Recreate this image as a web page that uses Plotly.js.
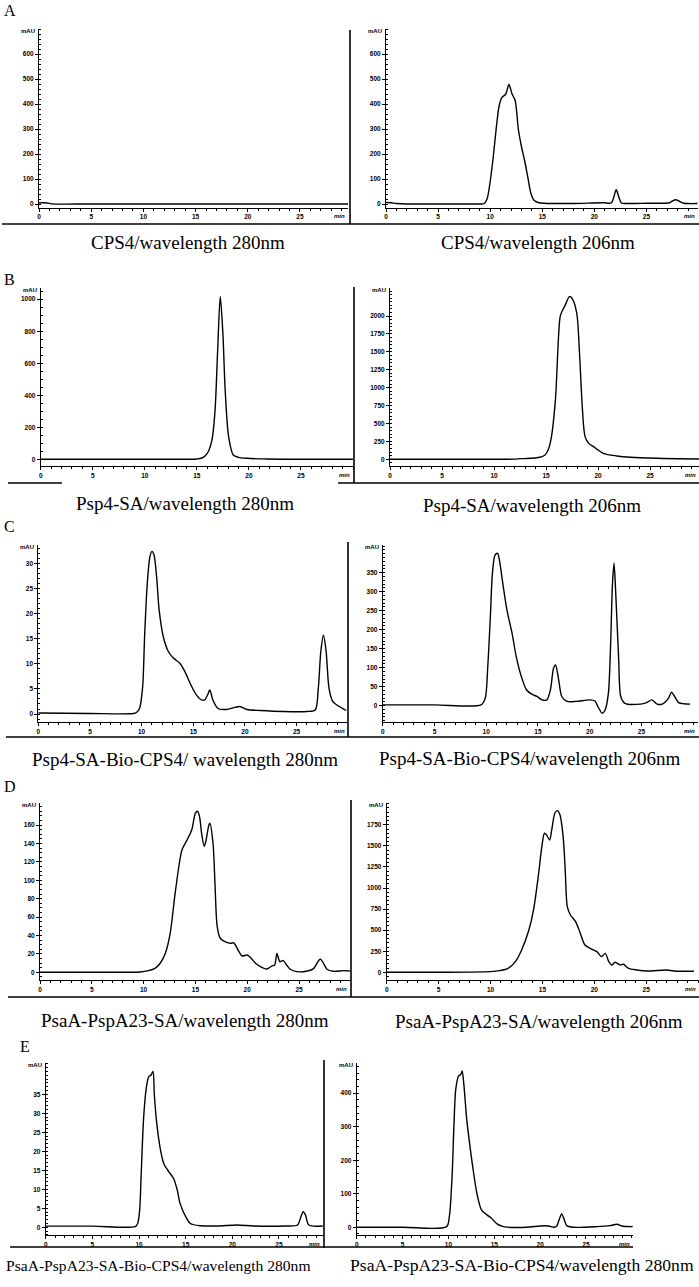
<!DOCTYPE html>
<html>
<head>
<meta charset="utf-8">
<script src="https://cdn.plot.ly/plotly-3.0.1.min.js"></script>
<style>html,body{margin:0;padding:0;background:#fff;}#chart{width:699px;height:1287px;}</style>
</head>
<body>
<div id="chart"></div>
<script>
// ---------------- DATA (retention time in min, absorbance in mAU) ----------------
const cps4_280_t = [0, 0.3, 0.8, 1.2, 5, 10, 15, 18.5, 19, 25, 29.6];
const cps4_280_y = [4, 5, 4, 0.5, 0, 0, 0, 0, 0, 0, 0];

const cps4_206_t = [0, 0.5, 1.0, 2, 5, 9, 9.4, 9.7, 10.0, 10.3, 10.6, 10.85, 11.1, 11.5, 11.8, 12.1, 12.4, 12.7, 13.0, 13.3, 13.6, 13.9, 14.2, 14.6, 15.2, 18, 21.0, 21.3, 21.65, 21.85, 22.1, 22.35, 22.6, 23.0, 25, 27.2, 27.5, 27.8, 28.2, 28.6, 29.9];
const cps4_206_y = [6, 5, 2, 0, 0, 0, 1, 20, 90, 190, 310, 390, 425, 440, 478, 440, 414, 300, 230, 175, 110, 44, 15, 6, 3, 2, 5, 3, 5, 25, 57, 28, 4, 2, 3, 5, 12, 17, 10, 3, 2];

const psp4_280_t = [0, 5, 10, 14, 15, 15.5, 16, 16.45, 16.75, 17, 17.25, 17.5, 17.72, 18.05, 18.5, 19, 19.8, 21.7, 24, 30];
const psp4_280_y = [0, 0, 0, 0, 2, 8, 37, 120, 308, 683, 1017, 787, 433, 142, 27, 12, 6, 2, 0, 0];

const psp4_206_t = [0, 5, 10, 12, 12.5, 13, 14.4, 14.9, 15.2, 15.5, 15.9, 16.35, 16.55, 16.8, 17.25, 17.5, 17.95, 18.2, 18.5, 18.75, 19.1, 19.55, 20.5, 21.8, 23.1, 25.6, 29.7];
const psp4_206_y = [0, 0, 0, 3, 9, 10, 28, 60, 130, 300, 830, 1990, 2070, 2140, 2272, 2248, 2040, 1527, 690, 317, 223, 177, 84, 47, 28, 14, 5];

const psp4bio_280_t = [0, 5, 9.2, 9.5, 9.8, 10.1, 10.3, 10.55, 10.8, 11.0, 11.2, 11.45, 11.7, 12.1, 12.6, 13.1, 13.7, 14.2, 14.7, 15.3, 15.8, 16.1, 16.45, 16.6, 16.9, 17.4, 18.2, 19.5, 20.2, 21.5, 23.7, 26.0, 26.8, 27.1, 27.35, 27.6, 27.85, 28.15, 28.5, 28.9, 29.8];
const psp4bio_280_y = [0.2, 0.1, 0.1, 0.3, 1.1, 5.4, 16, 26, 31.3, 32.4, 31.7, 27.4, 20.7, 15.4, 12.4, 11.1, 10.1, 8.4, 6.1, 3.8, 2.8, 2.8, 4.1, 4.8, 2.8, 1.1, 0.9, 1.5, 0.9, 0.7, 0.5, 0.5, 0.8, 5, 12.5, 15.7, 12.7, 5, 2.5, 1.8, 0.7];

const psp4bio_206_t = [0, 5, 9.5, 9.9, 10.15, 10.4, 10.6, 10.85, 11.1, 11.3, 11.6, 12.0, 12.5, 12.9, 13.4, 13.9, 14.4, 14.9, 15.4, 15.85, 16.2, 16.5, 16.7, 17.0, 17.3, 17.8, 18.7, 20.0, 20.5, 20.8, 21.2, 21.5, 21.8, 22.0, 22.2, 22.35, 22.5, 22.8, 23.0, 23.4, 24.9, 25.5, 26.0, 26.5, 27.0, 27.6, 27.9, 28.2, 28.6, 29.7];
const psp4bio_206_y = [2, 2, 2, 19, 103, 234, 348, 396, 401, 379, 322, 252, 190, 129, 76, 41, 30, 24, 15, 15, 41, 98, 107, 68, 24, 11, 11, 15, 12, -3, -20, -11, 32, 146, 322, 375, 304, 120, 24, 6, 4, 8, 15, 4, 4, 19, 35, 24, 8, 4];

const psaA_280_t = [0, 5, 9.66, 10.47, 11.1, 11.6, 12.1, 12.56, 13.0, 13.4, 13.7, 14.2, 14.65, 15.0, 15.2, 15.4, 15.6, 15.85, 16.0, 16.3, 16.4, 16.7, 16.9, 17.1, 17.4, 17.9, 18.4, 18.7, 19.2, 19.5, 20.0, 20.3, 20.8, 21.4, 21.9, 22.4, 22.65, 22.87, 23.15, 23.45, 23.8, 24.15, 24.8, 25.8, 26.4, 26.8, 27.05, 27.3, 27.7, 28.3, 29.3, 29.9];
const psaA_280_y = [0, 0, 0.4, 1.8, 4.3, 9.8, 20.7, 42, 82, 115, 133, 144, 155, 173, 175, 169, 151, 137, 142, 160, 162, 140, 93, 50, 37, 33, 31.5, 32, 22.5, 17.8, 18.8, 16.3, 9.8, 5.4, 3.6, 6.9, 8, 20.5, 11.5, 13, 8, 3.3, 0.7, 1.4, 4, 11, 14.5, 11, 3.3, 1.1, 1.8, 1.4];

const psaA_206_t = [0, 5, 10, 10.9, 11.7, 12.4, 13.0, 13.7, 14.15, 14.6, 14.95, 15.2, 15.4, 15.7, 15.9, 16.2, 16.45, 16.7, 17.0, 17.2, 17.4, 17.7, 18.2, 18.65, 19.1, 19.6, 20.25, 20.7, 21.06, 21.4, 21.7, 22.0, 22.5, 22.8, 23.3, 24.1, 25.1, 27.0, 27.65, 29.6];
const psaA_206_y = [0, 0, 8, 20, 47, 127, 265, 502, 740, 1135, 1491, 1650, 1630, 1570, 1689, 1887, 1918, 1867, 1610, 1214, 779, 680, 601, 463, 324, 285, 245, 186, 225, 127, 87, 119, 87, 95, 47, 28, 16, 28, 16, 12];

const psaAbio_280_t = [0, 5, 9.6, 9.86, 10.07, 10.25, 10.5, 10.8, 11.04, 11.3, 11.5, 11.65, 11.9, 12.3, 12.65, 13.2, 13.7, 14.1, 14.4, 15.0, 15.5, 16.6, 18.4, 20.5, 22.3, 25.6, 27.0, 27.3, 27.6, 27.85, 28.2, 29.7];
const psaAbio_280_y = [0.3, 0.3, 0.2, 1, 4.6, 15, 29, 37, 39.6, 40.1, 41, 34.6, 27.4, 20.4, 16.8, 14.6, 12.9, 9.8, 6.3, 2.8, 1, 0.4, 0.35, 0.6, 0.35, 0.35, 0.6, 2.4, 4.1, 3.2, 0.6, 0.35];

const psaAbio_206_t = [0, 5, 9.8, 10.1, 10.4, 10.6, 10.8, 11.1, 11.35, 11.5, 11.7, 12.0, 12.4, 12.7, 13.1, 13.6, 14.2, 14.7, 15.3, 16.0, 18.5, 20.0, 20.9, 21.5, 21.8, 22.1, 22.35, 22.6, 22.9, 23.6, 26.2, 27.6, 28.4, 28.9, 30.1];
const psaAbio_206_y = [0, 0, 2, 32, 152, 301, 411, 451, 456, 466, 421, 321, 231, 171, 102, 52, 37, 27, 10, 2, 0, 4, 4, 0, 3, 25, 40, 25, 5, 0, 2, 5, 9, 4, 2];

// tick labels
const xTicks = [0, 5, 10, 15, 20, 25];
const yTicksA = [0, 100, 200, 300, 400, 500, 600];
const yTicksB280 = [0, 200, 400, 600, 800, 1000];
const yTicksB206 = [0, 250, 500, 750, 1000, 1250, 1500, 1750, 2000];
const yTicksC280 = [0, 5, 10, 15, 20, 25, 30];
const yTicksC206 = [0, 50, 100, 150, 200, 250, 300, 350];
const yTicksD280 = [0, 20, 40, 60, 80, 100, 120, 140, 160];
const yTicksD206 = [0, 250, 500, 750, 1000, 1250, 1500, 1750];
const yTicksE280 = [0, 5, 10, 15, 20, 25, 30, 35];
const yTicksE206 = [0, 100, 200, 300, 400];

const captions = [
  "CPS4/wavelength 280nm", "CPS4/wavelength 206nm",
  "Psp4-SA/wavelength 280nm", "Psp4-SA/wavelength 206nm",
  "Psp4-SA-Bio-CPS4/ wavelength 280nm", "Psp4-SA-Bio-CPS4/wavelength 206nm",
  "PsaA-PspA23-SA/wavelength 280nm", "PsaA-PspA23-SA/wavelength 206nm",
  "PsaA-PspA23-SA-Bio-CPS4/wavelength 280nm", "PsaA-PspA23-SA-Bio-CPS4/wavelength 280nm"
];
const panelLetters = ["A", "B", "C", "D", "E"];

// ---------------- LAYOUT (pixel geometry of each chromatogram) ----------------
const W = 699, H = 1287;
const px = v => v / W;
const py = v => 1 - v / H;

const panels = [
  {t: cps4_280_t, y: cps4_280_y, yt: yTicksA, minor: 20, xd: [39, 348], xr: [0, 29.6], yd: [29, 207.5], yr: [-14, 700], cap: [188, 243, 19]},
  {t: cps4_206_t, y: cps4_206_y, yt: yTicksA, minor: 20, xd: [386, 698], xr: [0, 29.95], yd: [29, 207.5], yr: [-14, 700], cap: [538, 243, 19]},
  {t: psp4_280_t, y: psp4_280_y, yt: yTicksB280, minor: 50, xd: [40.7, 353], xr: [0, 30.0], yd: [288, 466], yr: [-42, 1070], cap: [185, 503, 19]},
  {t: psp4_206_t, y: psp4_206_y, yt: yTicksB206, minor: 50, xd: [390, 699], xr: [0, 29.7], yd: [288.3, 466], yr: [-93.5, 2388], cap: [532, 506, 19]},
  {t: psp4bio_280_t, y: psp4bio_280_y, yt: yTicksC280, minor: 1, xd: [38.3, 347.5], xr: [0, 29.93], yd: [545, 721.7], yr: [-1.53, 33.67], cap: [185, 760, 19]},
  {t: psp4bio_206_t, y: psp4bio_206_y, yt: yTicksC206, minor: 10, xd: [382.7, 698], xr: [0, 30.46], yd: [545, 721.7], yr: [-42.4, 422.9], cap: [530, 758, 19]},
  {t: psaA_280_t, y: psaA_280_y, yt: yTicksD280, minor: 5, xd: [40, 350], xr: [0, 29.92], yd: [803.3, 980], yr: [-8.37, 183.7], cap: [185, 1020, 19]},
  {t: psaA_206_t, y: psaA_206_y, yt: yTicksD206, minor: 50, xd: [386.7, 699], xr: [0, 30.09], yd: [803.3, 980], yr: [-91.3, 2005], cap: [539, 1021, 19]},
  {t: psaAbio_280_t, y: psaAbio_280_y, yt: yTicksE280, minor: 1, xd: [45.7, 323], xr: [0, 29.72], yd: [1063.3, 1235], yr: [-2.03, 43.16], cap: [158, 1265, 15.6]},
  {t: psaAbio_206_t, y: psaAbio_206_y, yt: yTicksE206, minor: 20, xd: [356.7, 633.3], xr: [0, 30.16], yd: [1063.3, 1235], yr: [-23, 489], cap: [522, 1265, 17.6]}
];

const tickFont = {family: "Liberation Sans, Arial, sans-serif", size: 6.5, color: "#000", weight: "bold"};
const serif = "Liberation Serif, Times New Roman, serif";

const traces = [];
const layout = {
  width: W, height: H,
  margin: {l: 0, r: 0, t: 0, b: 0, pad: 0},
  paper_bgcolor: "#fff", plot_bgcolor: "rgba(0,0,0,0)",
  showlegend: false,
  annotations: [], shapes: []
};

panels.forEach((p, i) => {
  const n = i === 0 ? "" : String(i + 1);
  traces.push({
    type: "scatter", mode: "lines", x: p.t, y: p.y,
    xaxis: "x" + n, yaxis: "y" + n,
    line: {color: "#000", width: 1.4, shape: "spline", smoothing: 0.8},
    hoverinfo: "skip", cliponaxis: true
  });
  layout["xaxis" + n] = {
    domain: [px(p.xd[0]), px(p.xd[1])], range: p.xr, anchor: "y" + n,
    showline: true, linecolor: "#000", linewidth: 1, mirror: false,
    showgrid: false, zeroline: false,
    tickmode: "array", tickvals: xTicks, ticktext: xTicks.map(String),
    ticks: "outside", ticklen: 3, tickwidth: 1, tickcolor: "#000",
    minor: {tickmode: "linear", tick0: 0, dtick: 1, ticks: "outside", ticklen: 2, tickwidth: 1, tickcolor: "#000", showgrid: false},
    tickfont: tickFont, fixedrange: true
  };
  layout["yaxis" + n] = {
    domain: [py(p.yd[1]), py(p.yd[0])], range: p.yr, anchor: "x" + n,
    showline: true, linecolor: "#000", linewidth: 1,
    showgrid: false, zeroline: false,
    tickmode: "array", tickvals: p.yt, ticktext: p.yt.map(String),
    ticks: "outside", ticklen: 3, tickwidth: 1, tickcolor: "#000",
    minor: {tickmode: "linear", tick0: 0, dtick: p.minor, ticks: "inside", ticklen: 2, tickwidth: 1, tickcolor: "#000", showgrid: false},
    tickfont: tickFont, fixedrange: true
  };
  // "mAU" unit label at top of y axis
  layout.annotations.push({
    xref: "paper", yref: "paper", x: px(p.xd[0] - 2), y: py(p.yd[0] + 2),
    xanchor: "right", yanchor: "middle", showarrow: false, text: "mAU",
    font: {family: tickFont.family, size: 6, color: "#000", weight: "bold"}
  });
  // "min" unit label at the end of x axis
  layout.annotations.push({
    xref: "paper", yref: "paper", x: px(p.xd[1] - 1), y: py(p.yd[1] + 9),
    xanchor: "right", yanchor: "middle", showarrow: false, text: "<i>min</i>",
    font: {family: tickFont.family, size: 6, color: "#000", weight: "bold"}
  });
  // caption
  layout.annotations.push({
    xref: "paper", yref: "paper", x: px(p.cap[0]), y: py(p.cap[1]),
    xanchor: "center", yanchor: "middle", showarrow: false, text: captions[i],
    font: {family: serif, size: p.cap[2], color: "#000"}
  });
});

// panel letters
const letterPos = [[2, 10], [2, 279], [2, 527], [2, 786], [18, 1046]];
panelLetters.forEach((L, i) => {
  layout.annotations.push({
    xref: "paper", yref: "paper", x: px(letterPos[i][0]), y: py(letterPos[i][1]),
    xanchor: "left", yanchor: "middle", showarrow: false, text: L,
    font: {family: serif, size: 16, color: "#000"}
  });
});

// frame lines of the assembled figure
const frame = [
  [350, 30, 350, 224], [2, 224, 699, 224],
  [354, 287, 354, 483], [8, 483, 62, 483], [338, 483, 699, 483],
  [348, 542, 348, 737], [6, 737, 699, 737],
  [351, 800, 351, 997], [8, 997, 699, 997],
  [324, 1060, 324, 1248], [10, 1247, 633, 1247]
];
frame.forEach(f => {
  layout.shapes.push({
    type: "line", xref: "paper", yref: "paper",
    x0: px(f[0]), y0: py(f[1]), x1: px(f[2]), y1: py(f[3]),
    line: {color: "#000", width: 1.6}
  });
});

Plotly.newPlot("chart", traces, layout, {staticPlot: true, displayModeBar: false});
</script>
</body>
</html>
